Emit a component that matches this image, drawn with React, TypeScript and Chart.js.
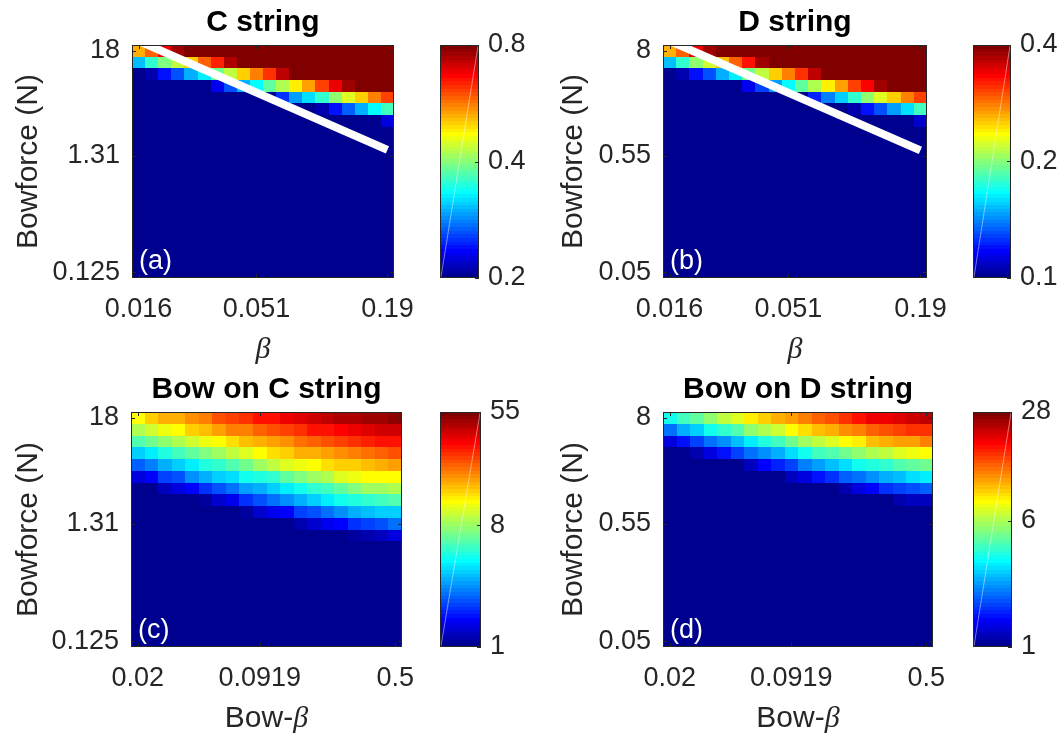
import React, { useEffect, useRef } from 'react';
import { Chart, registerables } from 'chart.js';

Chart.register(...registerables);

// ---------------- DATA ----------------
// Heat-map values: rows listed top -> bottom, 20 columns left -> right.

// (a) C string, colour scale 0.2 .. 0.8 (log)
const C_STRING_VALUES = [
  [0.52, 0.579, 0.687, 0.76, 0.8, 0.8, 0.8, 0.8, 0.8, 0.8, 0.8, 0.8, 0.8, 0.8, 0.8, 0.8, 0.8, 0.8, 0.8, 0.8],
  [0.308, 0.355, 0.396, 0.435, 0.505, 0.579, 0.637, 0.745, 0.8, 0.8, 0.8, 0.8, 0.8, 0.8, 0.8, 0.8, 0.8, 0.8, 0.8, 0.8],
  [0.2, 0.209, 0.238, 0.265, 0.3, 0.325, 0.385, 0.435, 0.505, 0.564, 0.628, 0.725, 0.8, 0.8, 0.8, 0.8, 0.8, 0.8, 0.8, 0.8],
  [0.2, 0.2, 0.2, 0.2, 0.2, 0.2, 0.23, 0.262, 0.296, 0.336, 0.375, 0.424, 0.476, 0.541, 0.604, 0.673, 0.754, 0.8, 0.8, 0.8],
  [0.2, 0.2, 0.2, 0.2, 0.2, 0.2, 0.2, 0.2, 0.2, 0.2, 0.2, 0.251, 0.292, 0.321, 0.355, 0.401, 0.447, 0.505, 0.556, 0.611],
  [0.2, 0.2, 0.2, 0.2, 0.2, 0.2, 0.2, 0.2, 0.2, 0.2, 0.2, 0.2, 0.2, 0.2, 0.212, 0.238, 0.269, 0.3, 0.334, 0.365],
  [0.2, 0.2, 0.2, 0.2, 0.2, 0.2, 0.2, 0.2, 0.2, 0.2, 0.2, 0.2, 0.2, 0.2, 0.2, 0.2, 0.2, 0.2, 0.2, 0.224],
  [0.2, 0.2, 0.2, 0.2, 0.2, 0.2, 0.2, 0.2, 0.2, 0.2, 0.2, 0.2, 0.2, 0.2, 0.2, 0.2, 0.2, 0.2, 0.2, 0.2],
  [0.2, 0.2, 0.2, 0.2, 0.2, 0.2, 0.2, 0.2, 0.2, 0.2, 0.2, 0.2, 0.2, 0.2, 0.2, 0.2, 0.2, 0.2, 0.2, 0.2],
  [0.2, 0.2, 0.2, 0.2, 0.2, 0.2, 0.2, 0.2, 0.2, 0.2, 0.2, 0.2, 0.2, 0.2, 0.2, 0.2, 0.2, 0.2, 0.2, 0.2],
  [0.2, 0.2, 0.2, 0.2, 0.2, 0.2, 0.2, 0.2, 0.2, 0.2, 0.2, 0.2, 0.2, 0.2, 0.2, 0.2, 0.2, 0.2, 0.2, 0.2],
  [0.2, 0.2, 0.2, 0.2, 0.2, 0.2, 0.2, 0.2, 0.2, 0.2, 0.2, 0.2, 0.2, 0.2, 0.2, 0.2, 0.2, 0.2, 0.2, 0.2],
  [0.2, 0.2, 0.2, 0.2, 0.2, 0.2, 0.2, 0.2, 0.2, 0.2, 0.2, 0.2, 0.2, 0.2, 0.2, 0.2, 0.2, 0.2, 0.2, 0.2],
  [0.2, 0.2, 0.2, 0.2, 0.2, 0.2, 0.2, 0.2, 0.2, 0.2, 0.2, 0.2, 0.2, 0.2, 0.2, 0.2, 0.2, 0.2, 0.2, 0.2],
  [0.2, 0.2, 0.2, 0.2, 0.2, 0.2, 0.2, 0.2, 0.2, 0.2, 0.2, 0.2, 0.2, 0.2, 0.2, 0.2, 0.2, 0.2, 0.2, 0.2],
  [0.2, 0.2, 0.2, 0.2, 0.2, 0.2, 0.2, 0.2, 0.2, 0.2, 0.2, 0.2, 0.2, 0.2, 0.2, 0.2, 0.2, 0.2, 0.2, 0.2],
  [0.2, 0.2, 0.2, 0.2, 0.2, 0.2, 0.2, 0.2, 0.2, 0.2, 0.2, 0.2, 0.2, 0.2, 0.2, 0.2, 0.2, 0.2, 0.2, 0.2],
  [0.2, 0.2, 0.2, 0.2, 0.2, 0.2, 0.2, 0.2, 0.2, 0.2, 0.2, 0.2, 0.2, 0.2, 0.2, 0.2, 0.2, 0.2, 0.2, 0.2],
  [0.2, 0.2, 0.2, 0.2, 0.2, 0.2, 0.2, 0.2, 0.2, 0.2, 0.2, 0.2, 0.2, 0.2, 0.2, 0.2, 0.2, 0.2, 0.2, 0.2],
  [0.2, 0.2, 0.2, 0.2, 0.2, 0.2, 0.2, 0.2, 0.2, 0.2, 0.2, 0.2, 0.2, 0.2, 0.2, 0.2, 0.2, 0.2, 0.2, 0.2],
];

// (b) D string, colour scale 0.1 .. 0.4 (log)
const D_STRING_VALUES = [
  [0.264, 0.29, 0.341, 0.38, 0.4, 0.4, 0.4, 0.4, 0.4, 0.4, 0.4, 0.4, 0.4, 0.4, 0.4, 0.4, 0.4, 0.4, 0.4, 0.4],
  [0.154, 0.178, 0.2, 0.221, 0.256, 0.29, 0.327, 0.377, 0.4, 0.4, 0.4, 0.4, 0.4, 0.4, 0.4, 0.4, 0.4, 0.4, 0.4, 0.4],
  [0.1, 0.106, 0.119, 0.132, 0.15, 0.162, 0.193, 0.215, 0.253, 0.282, 0.314, 0.362, 0.4, 0.4, 0.4, 0.4, 0.4, 0.4, 0.4, 0.4],
  [0.1, 0.1, 0.1, 0.1, 0.1, 0.1, 0.115, 0.127, 0.146, 0.168, 0.188, 0.212, 0.238, 0.267, 0.302, 0.336, 0.377, 0.4, 0.4, 0.4],
  [0.1, 0.1, 0.1, 0.1, 0.1, 0.1, 0.1, 0.1, 0.1, 0.1, 0.1, 0.124, 0.14, 0.156, 0.178, 0.2, 0.224, 0.251, 0.278, 0.302],
  [0.1, 0.1, 0.1, 0.1, 0.1, 0.1, 0.1, 0.1, 0.1, 0.1, 0.1, 0.1, 0.1, 0.1, 0.106, 0.119, 0.132, 0.146, 0.16, 0.18],
  [0.1, 0.1, 0.1, 0.1, 0.1, 0.1, 0.1, 0.1, 0.1, 0.1, 0.1, 0.1, 0.1, 0.1, 0.1, 0.1, 0.1, 0.1, 0.1, 0.11],
  [0.1, 0.1, 0.1, 0.1, 0.1, 0.1, 0.1, 0.1, 0.1, 0.1, 0.1, 0.1, 0.1, 0.1, 0.1, 0.1, 0.1, 0.1, 0.1, 0.1],
  [0.1, 0.1, 0.1, 0.1, 0.1, 0.1, 0.1, 0.1, 0.1, 0.1, 0.1, 0.1, 0.1, 0.1, 0.1, 0.1, 0.1, 0.1, 0.1, 0.1],
  [0.1, 0.1, 0.1, 0.1, 0.1, 0.1, 0.1, 0.1, 0.1, 0.1, 0.1, 0.1, 0.1, 0.1, 0.1, 0.1, 0.1, 0.1, 0.1, 0.1],
  [0.1, 0.1, 0.1, 0.1, 0.1, 0.1, 0.1, 0.1, 0.1, 0.1, 0.1, 0.1, 0.1, 0.1, 0.1, 0.1, 0.1, 0.1, 0.1, 0.1],
  [0.1, 0.1, 0.1, 0.1, 0.1, 0.1, 0.1, 0.1, 0.1, 0.1, 0.1, 0.1, 0.1, 0.1, 0.1, 0.1, 0.1, 0.1, 0.1, 0.1],
  [0.1, 0.1, 0.1, 0.1, 0.1, 0.1, 0.1, 0.1, 0.1, 0.1, 0.1, 0.1, 0.1, 0.1, 0.1, 0.1, 0.1, 0.1, 0.1, 0.1],
  [0.1, 0.1, 0.1, 0.1, 0.1, 0.1, 0.1, 0.1, 0.1, 0.1, 0.1, 0.1, 0.1, 0.1, 0.1, 0.1, 0.1, 0.1, 0.1, 0.1],
  [0.1, 0.1, 0.1, 0.1, 0.1, 0.1, 0.1, 0.1, 0.1, 0.1, 0.1, 0.1, 0.1, 0.1, 0.1, 0.1, 0.1, 0.1, 0.1, 0.1],
  [0.1, 0.1, 0.1, 0.1, 0.1, 0.1, 0.1, 0.1, 0.1, 0.1, 0.1, 0.1, 0.1, 0.1, 0.1, 0.1, 0.1, 0.1, 0.1, 0.1],
  [0.1, 0.1, 0.1, 0.1, 0.1, 0.1, 0.1, 0.1, 0.1, 0.1, 0.1, 0.1, 0.1, 0.1, 0.1, 0.1, 0.1, 0.1, 0.1, 0.1],
  [0.1, 0.1, 0.1, 0.1, 0.1, 0.1, 0.1, 0.1, 0.1, 0.1, 0.1, 0.1, 0.1, 0.1, 0.1, 0.1, 0.1, 0.1, 0.1, 0.1],
  [0.1, 0.1, 0.1, 0.1, 0.1, 0.1, 0.1, 0.1, 0.1, 0.1, 0.1, 0.1, 0.1, 0.1, 0.1, 0.1, 0.1, 0.1, 0.1, 0.1],
  [0.1, 0.1, 0.1, 0.1, 0.1, 0.1, 0.1, 0.1, 0.1, 0.1, 0.1, 0.1, 0.1, 0.1, 0.1, 0.1, 0.1, 0.1, 0.1, 0.1],
];

// (c) Bow on C string, colour scale 1 .. 55 (log)
const BOW_C_VALUES = [
  [12.2, 14.3, 15.8, 16.7, 18.5, 19.6, 23.4, 24.4, 27.4, 29.7, 30.8, 35.4, 36.8, 38.9, 40.5, 43.1, 45.5, 46.5, 47.4, 50.3],
  [8.8, 9.9, 11.1, 12.2, 14.3, 15.2, 17.1, 19.2, 20.0, 21.6, 23.4, 25.3, 27.4, 29.7, 30.8, 33.3, 35.4, 36.8, 38.2, 38.9],
  [6.1, 6.9, 7.8, 8.8, 9.9, 11.1, 12.2, 13.5, 15.2, 16.1, 17.8, 18.5, 20.8, 21.6, 23.4, 25.3, 26.3, 28.5, 29.7, 30.8],
  [3.6, 4.1, 4.9, 5.7, 6.4, 7.2, 8.4, 9.5, 10.7, 11.5, 13.5, 14.3, 15.8, 16.1, 17.1, 18.5, 19.2, 20.8, 22.5, 22.9],
  [2.4, 2.7, 3.1, 3.6, 4.15, 4.9, 5.3, 5.9, 6.9, 8.1, 9.1, 10.3, 11.1, 12.2, 13.5, 14.0, 14.6, 15.5, 15.8, 17.1],
  [1.44, 1.65, 2.0, 2.25, 2.75, 3.1, 3.5, 3.9, 4.5, 4.9, 5.3, 6.4, 7.2, 8.1, 8.8, 10.3, 11.1, 11.5, 11.8, 12.2],
  [1, 1, 1.23, 1.41, 1.65, 1.93, 2.25, 2.54, 2.97, 3.2, 3.6, 4.0, 4.7, 5.3, 5.7, 6.4, 7.2, 8.1, 8.1, 8.8],
  [1, 1, 1, 1, 1, 1.11, 1.33, 1.55, 1.93, 2.25, 2.45, 2.75, 3.1, 3.5, 4.0, 4.5, 4.9, 5.3, 5.5, 5.9],
  [1, 1, 1, 1, 1, 1, 1, 1, 1.09, 1.33, 1.49, 1.65, 2.0, 2.25, 2.54, 2.75, 3.1, 3.3, 3.5, 3.6],
  [1, 1, 1, 1, 1, 1, 1, 1, 1, 1, 1, 1, 1.18, 1.33, 1.49, 1.65, 1.93, 2.09, 2.18, 2.45],
  [1, 1, 1, 1, 1, 1, 1, 1, 1, 1, 1, 1, 1, 1, 1, 1, 1.09, 1.18, 1.28, 1.38],
  [1, 1, 1, 1, 1, 1, 1, 1, 1, 1, 1, 1, 1, 1, 1, 1, 1, 1, 1, 1],
  [1, 1, 1, 1, 1, 1, 1, 1, 1, 1, 1, 1, 1, 1, 1, 1, 1, 1, 1, 1],
  [1, 1, 1, 1, 1, 1, 1, 1, 1, 1, 1, 1, 1, 1, 1, 1, 1, 1, 1, 1],
  [1, 1, 1, 1, 1, 1, 1, 1, 1, 1, 1, 1, 1, 1, 1, 1, 1, 1, 1, 1],
  [1, 1, 1, 1, 1, 1, 1, 1, 1, 1, 1, 1, 1, 1, 1, 1, 1, 1, 1, 1],
  [1, 1, 1, 1, 1, 1, 1, 1, 1, 1, 1, 1, 1, 1, 1, 1, 1, 1, 1, 1],
  [1, 1, 1, 1, 1, 1, 1, 1, 1, 1, 1, 1, 1, 1, 1, 1, 1, 1, 1, 1],
  [1, 1, 1, 1, 1, 1, 1, 1, 1, 1, 1, 1, 1, 1, 1, 1, 1, 1, 1, 1],
  [1, 1, 1, 1, 1, 1, 1, 1, 1, 1, 1, 1, 1, 1, 1, 1, 1, 1, 1, 1],
];

// (d) Bow on D string, colour scale 1 .. 28 (log)
const BOW_D_VALUES = [
  [3.49, 4.11, 4.68, 5.33, 6.27, 6.93, 8.03, 9.14, 10.1, 10.8, 11.7, 12.9, 14.2, 15.2, 16.8, 18.5, 19.4, 20.3, 21.4, 22.1],
  [2.17, 2.56, 2.91, 3.49, 3.97, 4.52, 5.33, 5.89, 6.71, 7.64, 8.72, 9.61, 10.4, 11.3, 11.7, 12.9, 13.8, 14.7, 15.2, 15.7],
  [1.35, 1.52, 1.79, 2.1, 2.39, 2.82, 3.21, 3.73, 4.25, 4.84, 5.69, 6.27, 6.93, 7.64, 8.43, 9.61, 9.93, 10.6, 10.9, 11.7],
  [1, 1, 1.11, 1.31, 1.52, 1.79, 2.1, 2.32, 2.65, 3.11, 3.49, 4.11, 4.52, 4.84, 5.33, 5.89, 6.48, 7.05, 7.38, 7.64],
  [1, 1, 1, 1, 1, 1, 1.19, 1.44, 1.62, 1.85, 2.25, 2.47, 2.73, 3.01, 3.49, 3.73, 3.97, 4.39, 4.68, 5.0],
  [1, 1, 1, 1, 1, 1, 1, 1, 1, 1.23, 1.31, 1.52, 1.73, 1.97, 2.17, 2.39, 2.56, 2.82, 3.01, 3.21],
  [1, 1, 1, 1, 1, 1, 1, 1, 1, 1, 1, 1, 1, 1.15, 1.31, 1.49, 1.76, 1.85, 1.91, 2.03],
  [1, 1, 1, 1, 1, 1, 1, 1, 1, 1, 1, 1, 1, 1, 1, 1, 1, 1.11, 1.19, 1.23],
  [1, 1, 1, 1, 1, 1, 1, 1, 1, 1, 1, 1, 1, 1, 1, 1, 1, 1, 1, 1],
  [1, 1, 1, 1, 1, 1, 1, 1, 1, 1, 1, 1, 1, 1, 1, 1, 1, 1, 1, 1],
  [1, 1, 1, 1, 1, 1, 1, 1, 1, 1, 1, 1, 1, 1, 1, 1, 1, 1, 1, 1],
  [1, 1, 1, 1, 1, 1, 1, 1, 1, 1, 1, 1, 1, 1, 1, 1, 1, 1, 1, 1],
  [1, 1, 1, 1, 1, 1, 1, 1, 1, 1, 1, 1, 1, 1, 1, 1, 1, 1, 1, 1],
  [1, 1, 1, 1, 1, 1, 1, 1, 1, 1, 1, 1, 1, 1, 1, 1, 1, 1, 1, 1],
  [1, 1, 1, 1, 1, 1, 1, 1, 1, 1, 1, 1, 1, 1, 1, 1, 1, 1, 1, 1],
  [1, 1, 1, 1, 1, 1, 1, 1, 1, 1, 1, 1, 1, 1, 1, 1, 1, 1, 1, 1],
  [1, 1, 1, 1, 1, 1, 1, 1, 1, 1, 1, 1, 1, 1, 1, 1, 1, 1, 1, 1],
  [1, 1, 1, 1, 1, 1, 1, 1, 1, 1, 1, 1, 1, 1, 1, 1, 1, 1, 1, 1],
  [1, 1, 1, 1, 1, 1, 1, 1, 1, 1, 1, 1, 1, 1, 1, 1, 1, 1, 1, 1],
  [1, 1, 1, 1, 1, 1, 1, 1, 1, 1, 1, 1, 1, 1, 1, 1, 1, 1, 1, 1],
];

// Axis tick labels and the grid cell (column / row from bottom) each one sits on
const X_TICK_CELLS = [0, 9, 19];
const Y_TICK_CELLS = [0, 10, 19];
const BETA_TICK_LABELS = ['0.016', '0.051', '0.19'];
const BOW_BETA_TICK_LABELS = ['0.02', '0.0919', '0.5'];
const C_FORCE_TICK_LABELS = ['0.125', '1.31', '18'];
const D_FORCE_TICK_LABELS = ['0.05', '0.55', '8'];

// Colour-bar ranges and ticks
const C_STRING_RANGE = [0.2, 0.8];
const D_STRING_RANGE = [0.1, 0.4];
const BOW_C_RANGE = [1, 55];
const BOW_D_RANGE = [1, 28];
const C_STRING_CB_TICKS = [0.2, 0.4, 0.8];
const D_STRING_CB_TICKS = [0.1, 0.2, 0.4];
const BOW_C_CB_TICKS = [1, 8, 55];
const BOW_D_CB_TICKS = [1, 6, 28];
const C_STRING_CB_LABELS = ['0.2', '0.4', '0.8'];
const D_STRING_CB_LABELS = ['0.1', '0.2', '0.4'];
const BOW_C_CB_LABELS = ['1', '8', '55'];
const BOW_D_CB_LABELS = ['1', '6', '28'];

// White boundary line (column index, row index from bottom)
const C_STRING_BOUNDARY = [{ x: 0, y: 19.85 }, { x: 19, y: 10.5 }];
const D_STRING_BOUNDARY = [{ x: 0, y: 19.85 }, { x: 19, y: 10.45 }];

// ---------------- STYLE / LAYOUT ----------------
const FONT = '"Liberation Sans", Arial, Helvetica, sans-serif';
const SERIF = '"Liberation Serif", "DejaVu Serif", serif';
const AXIS = '#262626';
const TICK_SIZE = 27;
const LABEL_SIZE = 30;
const X_AXIS_H = 88;
const TITLE_BLOCK = 39;
const TITLE_PAD_TOP = 2;

type Panel = {
  key: string;
  values: number[][];
  range: number[];
  title: string;
  letter: string;
  xTicks: string[];
  yTicks: string[];
  xTitle: [string, string];
  boundary: { x: number; y: number }[] | null;
  cbTicks: number[];
  cbLabels: string[];
  plot: { l: number; t: number; r: number; b: number };
  canvasLeft: number;
  padRight: number;
  yTitleX: number;
  cb: { l: number; t: number; r: number; b: number };
};

const PANELS: Panel[] = [
  {
    key: 'a', values: C_STRING_VALUES, range: C_STRING_RANGE, title: 'C string', letter: '(a)',
    xTicks: BETA_TICK_LABELS, yTicks: C_FORCE_TICK_LABELS, xTitle: ['', 'β'], boundary: C_STRING_BOUNDARY,
    cbTicks: C_STRING_CB_TICKS, cbLabels: C_STRING_CB_LABELS,
    plot: { l: 132, t: 45, r: 394, b: 278 }, canvasLeft: 0, padRight: 40, yTitleX: 29,
    cb: { l: 440, t: 45, r: 479, b: 278 },
  },
  {
    key: 'b', values: D_STRING_VALUES, range: D_STRING_RANGE, title: 'D string', letter: '(b)',
    xTicks: BETA_TICK_LABELS, yTicks: D_FORCE_TICK_LABELS, xTitle: ['', 'β'], boundary: D_STRING_BOUNDARY,
    cbTicks: D_STRING_CB_TICKS, cbLabels: D_STRING_CB_LABELS,
    plot: { l: 663, t: 45, r: 927, b: 278 }, canvasLeft: 530, padRight: 40, yTitleX: 574,
    cb: { l: 973, t: 45, r: 1011, b: 278 },
  },
  {
    key: 'c', values: BOW_C_VALUES, range: BOW_C_RANGE, title: 'Bow on C string', letter: '(c)',
    xTicks: BOW_BETA_TICK_LABELS, yTicks: C_FORCE_TICK_LABELS, xTitle: ['Bow-', 'β'], boundary: null,
    cbTicks: BOW_C_CB_TICKS, cbLabels: BOW_C_CB_LABELS,
    plot: { l: 131, t: 412, r: 402, b: 647 }, canvasLeft: 0, padRight: 36, yTitleX: 29,
    cb: { l: 440, t: 412, r: 481, b: 647 },
  },
  {
    key: 'd', values: BOW_D_VALUES, range: BOW_D_RANGE, title: 'Bow on D string', letter: '(d)',
    xTicks: BOW_BETA_TICK_LABELS, yTicks: D_FORCE_TICK_LABELS, xTitle: ['Bow-', 'β'], boundary: null,
    cbTicks: BOW_D_CB_TICKS, cbLabels: BOW_D_CB_LABELS,
    plot: { l: 663, t: 412, r: 933, b: 647 }, canvasLeft: 530, padRight: 35, yTitleX: 574,
    cb: { l: 973, t: 412, r: 1012, b: 647 },
  },
];

// ---------------- COLOUR MAP (MATLAB jet, 64 levels) ----------------
function jet64(k: number): string {
  const cl = (v: number) => Math.max(0, Math.min(1, v));
  const r = cl(Math.min((k - 24) / 16, (72 - k) / 16));
  const g = cl(Math.min((k - 8) / 16, (56 - k) / 16));
  const b = cl(Math.min((k + 8) / 16, (40 - k) / 16));
  return `rgb(${Math.round(r * 255)},${Math.round(g * 255)},${Math.round(b * 255)})`;
}
function colorFor(v: number, range: number[]): string {
  const t = Math.log(v / range[0]) / Math.log(range[1] / range[0]);
  const k = Math.min(64, Math.max(1, Math.floor(t * 64) + 1));
  return jet64(k);
}

// ---------------- CHART CONFIGS ----------------
function heatmapConfig(p: Panel): any {
  const tickFont = { family: FONT, size: TICK_SIZE, lineHeight: 1 };
  const nRows = p.values.length;
  const heatPlugin = {
    id: 'heat' + p.key,
    beforeDatasetsDraw(chart: any) {
      const { ctx, scales } = chart;
      const xs = scales.x;
      const ys = scales.y;
      ctx.save();
      p.values.forEach((row, r) => {
        const yi = nRows - 1 - r;
        const y0 = Math.round(ys.getPixelForValue(yi + 0.5));
        const y1 = Math.round(ys.getPixelForValue(yi - 0.5));
        row.forEach((v, c) => {
          const x0 = Math.round(xs.getPixelForValue(c - 0.5));
          const x1 = Math.round(xs.getPixelForValue(c + 0.5));
          ctx.fillStyle = colorFor(v, p.range);
          ctx.fillRect(x0, y0, x1 - x0, y1 - y0);
        });
      });
      ctx.restore();
    },
    afterDatasetsDraw(chart: any) {
      const { ctx, chartArea: a, scales } = chart;
      ctx.save();
      // panel letter
      ctx.fillStyle = '#ffffff';
      ctx.font = `${TICK_SIZE}px ${FONT}`;
      ctx.textAlign = 'left';
      ctx.textBaseline = 'middle';
      ctx.fillText(p.letter, a.left + 7, a.bottom - 16);
      // axes box
      ctx.strokeStyle = AXIS;
      ctx.lineWidth = 1;
      ctx.strokeRect(a.left + 0.5, a.top + 0.5, a.right - a.left - 1, a.bottom - a.top - 1);
      // inward tick marks
      ctx.beginPath();
      X_TICK_CELLS.forEach((c) => {
        const x = Math.round(scales.x.getPixelForValue(c)) + 0.5;
        ctx.moveTo(x, a.bottom); ctx.lineTo(x, a.bottom - 4);
        ctx.moveTo(x, a.top); ctx.lineTo(x, a.top + 4);
      });
      Y_TICK_CELLS.forEach((c) => {
        const y = Math.round(scales.y.getPixelForValue(c)) + 0.5;
        ctx.moveTo(a.left, y); ctx.lineTo(a.left + 4, y);
        ctx.moveTo(a.right, y); ctx.lineTo(a.right - 4, y);
      });
      ctx.stroke();
      // x-axis title (sans prefix + italic TeX-like beta)
      const sans = `${LABEL_SIZE}px ${FONT}`;
      const serif = `italic ${LABEL_SIZE}px ${SERIF}`;
      ctx.font = sans;
      const w1 = p.xTitle[0] ? ctx.measureText(p.xTitle[0]).width : 0;
      ctx.font = serif;
      const w2 = ctx.measureText(p.xTitle[1]).width;
      let x = (a.left + a.right) / 2 - (w1 + w2) / 2;
      const y = a.bottom + 72;
      ctx.fillStyle = AXIS;
      if (p.xTitle[0]) {
        ctx.font = sans;
        ctx.fillText(p.xTitle[0], x, y);
        x += w1;
      }
      ctx.font = serif;
      ctx.fillText(p.xTitle[1], x, y);
      ctx.restore();
    },
  };

  return {
    type: 'scatter',
    data: {
      datasets: p.boundary
        ? [{ data: p.boundary, showLine: true, borderColor: '#ffffff', borderWidth: 8, pointRadius: 0, clip: 0 }]
        : [],
    },
    options: {
      animation: false,
      responsive: false,
      events: [],
      layout: { padding: { left: 0, top: 0, right: p.padRight, bottom: 0 } },
      plugins: {
        legend: { display: false },
        tooltip: { enabled: false },
        title: {
          display: true,
          text: p.title,
          fullSize: false,
          color: '#000000',
          font: { family: FONT, size: LABEL_SIZE, weight: 'bold', lineHeight: 1 },
          padding: { top: TITLE_PAD_TOP, bottom: TITLE_BLOCK - LABEL_SIZE - TITLE_PAD_TOP },
        },
      },
      scales: {
        x: {
          type: 'linear',
          min: -0.5,
          max: 19.5,
          grid: { display: false, drawTicks: false },
          border: { display: false },
          afterBuildTicks: (s: any) => { s.ticks = X_TICK_CELLS.map((v) => ({ value: v })); },
          ticks: {
            autoSkip: false, maxRotation: 0, minRotation: 0, padding: 18, color: AXIS, font: tickFont,
            callback: (_v: any, i: number) => p.xTicks[i],
          },
          afterFit: (s: any) => { s.height = X_AXIS_H; s.paddingLeft = 0; s.paddingRight = 0; },
        },
        y: {
          type: 'linear',
          min: -0.5,
          max: 19.5,
          grid: { display: false, drawTicks: false },
          border: { display: false },
          afterBuildTicks: (s: any) => { s.ticks = Y_TICK_CELLS.map((v) => ({ value: v })); },
          ticks: {
            autoSkip: false, padding: 12, color: AXIS, font: tickFont,
            callback: (_v: any, i: number) => p.yTicks[i],
          },
          title: {
            display: true,
            text: 'Bowforce (N)',
            color: AXIS,
            font: { family: FONT, size: LABEL_SIZE, lineHeight: 1 },
            padding: { top: p.yTitleX - p.canvasLeft - LABEL_SIZE / 2, bottom: 0 },
          },
          afterFit: (s: any) => { s.width = p.plot.l - p.canvasLeft; s.paddingTop = 0; s.paddingBottom = 0; },
        },
      },
    },
    plugins: [heatPlugin],
  };
}

function colorbarConfig(p: Panel, axisWidth: number): any {
  const tickFont = { family: FONT, size: TICK_SIZE, lineHeight: 1 };
  const cbPlugin = {
    id: 'cb' + p.key,
    beforeDatasetsDraw(chart: any) {
      const { ctx, chartArea: a, scales } = chart;
      const ys = scales.y;
      const [lo, hi] = p.range;
      ctx.save();
      for (let k = 1; k <= 64; k++) {
        const v0 = lo * Math.pow(hi / lo, (k - 1) / 64);
        const v1 = lo * Math.pow(hi / lo, k / 64);
        const y0 = Math.round(ys.getPixelForValue(v1));
        const y1 = Math.round(ys.getPixelForValue(v0));
        ctx.fillStyle = jet64(k);
        ctx.fillRect(a.left, y0, a.right - a.left, y1 - y0);
      }
      // faint rendering seam of the original colour bar
      ctx.strokeStyle = 'rgba(255,255,255,0.45)';
      ctx.lineWidth = 1;
      ctx.beginPath();
      ctx.moveTo(a.left + 1, a.bottom - 1);
      ctx.lineTo(a.right - 1, a.top + 1);
      ctx.stroke();
      // box
      ctx.strokeStyle = AXIS;
      ctx.strokeRect(a.left + 0.5, a.top + 0.5, a.right - a.left - 1, a.bottom - a.top - 1);
      ctx.beginPath();
      p.cbTicks.forEach((v) => {
        const y = Math.round(ys.getPixelForValue(v)) + 0.5;
        ctx.moveTo(a.right, y); ctx.lineTo(a.right - 4, y);
      });
      ctx.stroke();
      ctx.restore();
    },
  };
  return {
    type: 'scatter',
    data: { datasets: [] },
    options: {
      animation: false,
      responsive: false,
      events: [],
      layout: { padding: { left: 0, top: 20, right: 0, bottom: 20 } },
      plugins: { legend: { display: false }, tooltip: { enabled: false }, title: { display: false } },
      scales: {
        x: { display: false, min: 0, max: 1 },
        y: {
          type: 'logarithmic',
          position: 'right',
          min: p.range[0],
          max: p.range[1],
          grid: { display: false, drawTicks: false },
          border: { display: false },
          afterBuildTicks: (s: any) => { s.ticks = p.cbTicks.map((v) => ({ value: v })); },
          ticks: {
            autoSkip: false, padding: 9, color: AXIS, font: tickFont,
            callback: (_v: any, i: number) => p.cbLabels[i],
          },
          afterFit: (s: any) => { s.width = axisWidth; s.paddingTop = 0; s.paddingBottom = 0; },
        },
      },
    },
    plugins: [cbPlugin],
  };
}

// ---------------- COMPONENTS ----------------
function ChartCanvas(props: { left: number; top: number; width: number; height: number; config: () => any }) {
  const ref = useRef<HTMLCanvasElement>(null);
  useEffect(() => {
    const chart = new Chart(ref.current as HTMLCanvasElement, props.config());
    return () => chart.destroy();
  }, []);
  return (
    <canvas
      ref={ref}
      width={props.width}
      height={props.height}
      style={{ position: 'absolute', left: props.left, top: props.top, width: props.width, height: props.height }}
    />
  );
}

export default function App() {
  return (
    <div style={{ position: 'absolute', left: 0, top: 0, width: 1060, height: 735, overflow: 'hidden', background: '#ffffff' }}>
      {PANELS.map((p) => {
        const top = p.plot.t - TITLE_BLOCK;
        const width = p.plot.r + p.padRight - p.canvasLeft;
        const height = Math.min(735, p.plot.b + X_AXIS_H) - top;
        const cbAxisW = Math.min(70, 1060 - p.cb.r);
        return (
          <React.Fragment key={p.key}>
            <ChartCanvas left={p.canvasLeft} top={top} width={width} height={height} config={() => heatmapConfig(p)} />
            <ChartCanvas
              left={p.cb.l}
              top={p.cb.t - 20}
              width={p.cb.r - p.cb.l + cbAxisW}
              height={p.cb.b - p.cb.t + 40}
              config={() => colorbarConfig(p, cbAxisW)}
            />
          </React.Fragment>
        );
      })}
    </div>
  );
}
